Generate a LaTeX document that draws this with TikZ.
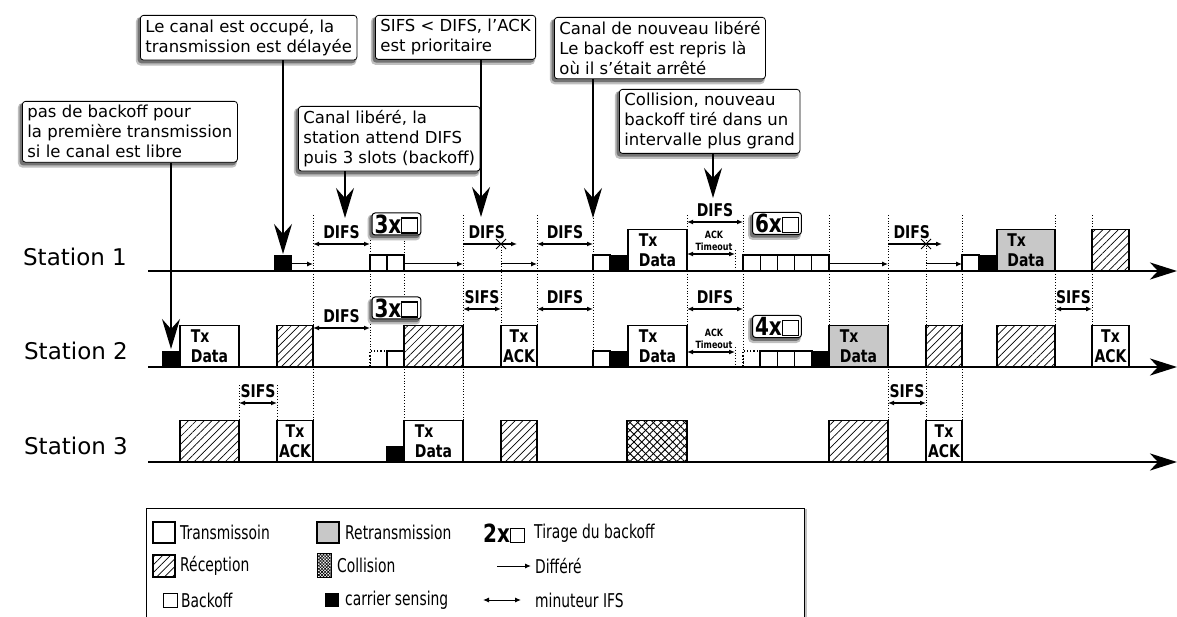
\documentclass[tikz,border=0pt]{standalone}
\usepackage{fontspec}
\setmainfont{DejaVu Sans}
\newfontfamily\condfont{DejaVu Sans}[FakeStretch=0.8]
\newfontfamily\legcondfont{DejaVu Sans}[FakeStretch=0.73]
\usetikzlibrary{arrows.meta,positioning,patterns.meta}
\definecolor{retxgray}{HTML}{C8C8C8}
\newcommand{\calloutfont}{\fontsize{16.5}{20}\selectfont}
\newcommand{\lblfont}{\condfont\bfseries\fontsize{17.5}{19.5}\selectfont}
\newcommand{\tinyfont}{\condfont\bfseries\fontsize{10}{12}\selectfont}
\newcommand{\cntfont}{\condfont\bfseries\fontsize{25}{25}\selectfont}
\newcommand{\legfont}{\legcondfont\fontsize{19}{20}\selectfont}
\newcommand{\sqbox}[3]{\tikz[baseline=0pt]\draw[line width=#3, sharp corners] (0pt,0pt) rectangle (#1,#2);}

\begin{document}
\begin{tikzpicture}[
  x=1pt, y=-1pt,
  blk/.style={anchor=south west, inner sep=0pt, outer sep=0pt, line width=1.2pt},
  tx/.style={blk, draw, fill=white, minimum height=41.5pt, font=\lblfont, align=left},
  ack/.style={tx, align=center},
  rtx/.style={tx, fill=retxgray},
  rx/.style={blk, draw, minimum height=41.5pt,
    pattern={Lines[angle=45, distance=5.5pt, line width=0.7pt]}},
  coll/.style={blk, draw, minimum height=41.5pt,
    preaction={pattern={Lines[angle=-45, distance=5.5pt, line width=0.9pt]}},
    pattern={Lines[angle=45, distance=5.5pt, line width=0.9pt]}},
  slot/.style={blk, draw, fill=white, minimum width=17pt, minimum height=16pt},
  dslot/.style={blk, draw, dotted, minimum width=17pt, minimum height=16pt},
  cs/.style={blk, fill=black, minimum width=18pt, minimum height=16pt},
  axis/.style={line width=2.8pt, -{Stealth[length=27pt, width=17pt, inset=8pt]}},
  grid/.style={dotted, line width=0.8pt},
  defer/.style={line width=1pt, -{Latex[length=6pt, width=5pt]}},
  ifs/.style={line width=1.2pt, {Latex[length=6pt, width=5pt]}-{Latex[length=6pt, width=5pt]}},
  ifsl/.style={line width=1.2pt, {Latex[length=6pt, width=5pt]}-},
  ifslab/.style={midway, yshift=12pt, inner sep=0pt, font=\lblfont},
  xmark/.style={line width=0.9pt},
  boxshadow/.style={preaction={draw=black!25, fill=black!25, line width=4pt,
      transform canvas={xshift=-2.5pt, yshift=-3.5pt}},
    preaction={draw=black!55, fill=black!55, line width=1.5pt,
      transform canvas={xshift=-2pt, yshift=-2.5pt}}},
  callout/.style={draw, fill=white, rounded corners=3pt, line width=0.8pt,
    align=left, font=\calloutfont, inner xsep=5pt, inner ysep=4pt, anchor=north west, boxshadow},
  callarrow/.style={line width=1.5pt, -{Stealth[length=30pt, width=18pt, inset=10pt]}},
  cnt/.style={draw, fill=white, rounded corners=3pt, line width=1pt, font=\cntfont,
    inner xsep=2.5pt, inner ysep=0pt, minimum height=22pt, boxshadow},
  station/.style={font=\fontsize{23}{23}\selectfont},
  legtext/.style={font=\legfont, inner sep=1pt, anchor=west}
]
  \useasboundingbox (0,0) rectangle (1177,617);

  % time grid
  \foreach \x/\ya/\yb in {239/385/421, 277/385/421, 313/215/421, 370/240/367,
      404/235/421, 463/215/421, 501/244/325, 537/215/325, 593/215/350,
      687/215/326, 743/215/367, 829/215/326, 888/215/421, 926/240/421,
      962/215/421, 1055/215/325, 1092/215/325, 735/250/271, 735/347/367}
    \draw[grid] (\x,\ya) -- (\x,\yb);

  % stations
  \node[station] (st1) at (75,257) {Station 1};
  \node[station] (st2) at (76,351) {Station 2};
  \node[station] (st3) at (76,446) {Station 3};
  \draw[axis] (148,271) -- (1177,271);
  \draw[axis] (148,367) -- (1177,367);
  \draw[axis] (148,462) -- (1177,462);

  % station 1
  \node[cs] (s1cs1) at (274,271) {};
  \draw[defer] (292,264) -- (313,264);
  \draw[ifs] (313,244) -- node[ifslab] {DIFS} (370,244);
  \node[cnt] (s1n3) at (396.5,224) {3x\sqbox{16pt}{15pt}{1.1pt}};
  \foreach \i in {0,1}
    \node[slot] at (370+17*\i,271) {};
  \draw[defer] (404,264) -- (463,264);
  \draw[ifsl] (517,244) -- node[ifslab, pos=0.56] {DIFS} (463,244);
  \draw[xmark] (501,244) +(-5,-5) -- +(5,5) +(-5,5) -- +(5,-5);
  \draw[defer] (501,264) -- (537,264);
  \draw[ifs] (537,244) -- node[ifslab] {DIFS} (593,244);
  \node[slot] (s1bo2) at (593,271) {};
  \node[cs] (s1cs2) at (610,271) {};
  \node[tx, minimum width=59pt] (s1data) at (628,271) {Tx\\Data};
  \draw[ifs] (687,222) -- node[ifslab] {DIFS} (743,222);
  \node[font=\tinyfont, align=center, inner sep=0pt] (s1to) at (714,241) {ACK\\Timeout};
  \draw[ifs] (687,254) -- (735,254);
  \node[cnt] (s1n6) at (777,223.5) {6x\sqbox{16pt}{15pt}{1.1pt}};
  \foreach \i in {0,...,4}
    \node[slot, minimum width=17.2pt] at (743+17.2*\i,271) {};
  \draw[defer] (829,264) -- (888,264);
  \draw[ifsl] (942,244) -- node[ifslab, pos=0.56] {DIFS} (888,244);
  \draw[xmark] (926,244) +(-5,-5) -- +(5,5) +(-5,5) -- +(5,-5);
  \draw[defer] (926,264) -- (962,264);
  \node[slot] (s1bo3) at (962,271) {};
  \node[cs] (s1cs3) at (979,271) {};
  \node[rtx, minimum width=58pt] (s1redata) at (997,271) {Tx\\Data};
  \node[rx, minimum width=37pt] (s1rx1) at (1092,271) {};

  % station 2
  \node[cs] (s2cs1) at (162,367) {};
  \node[tx, minimum width=59pt] (s2data1) at (180,367) {Tx\\Data};
  \node[rx, minimum width=36pt] (s2rx1) at (277,367) {};
  \draw[ifs] (313,328) -- node[ifslab] {DIFS} (370,328);
  \node[cnt] (s2n3) at (396.5,308) {3x\sqbox{16pt}{15pt}{1.1pt}};
  \node[dslot] (s2bo1) at (370,367) {};
  \node[slot] (s2bo2) at (387,367) {};
  \node[rx, minimum width=59pt] (s2rx2) at (404,367) {};
  \draw[ifs] (463,309) -- node[ifslab] {SIFS} (501,309);
  \node[ack, minimum width=36pt] (s2ack1) at (501,367) {Tx\\ACK};
  \draw[ifs] (537,309) -- node[ifslab] {DIFS} (593,309);
  \node[slot] (s2bo3) at (593,367) {};
  \node[cs] (s2cs2) at (610,367) {};
  \node[tx, minimum width=59pt] (s2data2) at (628,367) {Tx\\Data};
  \draw[ifs] (687,309) -- node[ifslab] {DIFS} (743,309);
  \node[font=\tinyfont, align=center, inner sep=0pt] (s2to) at (714,339) {ACK\\Timeout};
  \draw[ifs] (687,352) -- (735,352);
  \node[cnt] (s2n4) at (777,326.5) {4x\sqbox{16pt}{15pt}{1.1pt}};
  \node[dslot] (s2bo4) at (743,367) {};
  \foreach \i in {0,1,2}
    \node[slot, minimum width=17.3pt] at (760+17.3*\i,367) {};
  \node[cs, minimum width=17pt] (s2cs3) at (812,367) {};
  \node[rtx, minimum width=59pt] (s2redata) at (829,367) {Tx\\Data};
  \node[rx, minimum width=36pt] (s2rx3) at (926,367) {};
  \node[rx, minimum width=58pt] (s2rx4) at (997,367) {};
  \draw[ifs] (1055,309) -- node[ifslab] {SIFS} (1092,309);
  \node[ack, minimum width=37pt] (s2ack2) at (1092,367) {Tx\\ACK};

  % station 3
  \node[rx, minimum width=59pt] (s3rx1) at (180,462) {};
  \draw[ifs] (239,403) -- node[ifslab] {SIFS} (277,403);
  \node[ack, minimum width=36pt] (s3ack1) at (277,462) {Tx\\ACK};
  \node[cs] (s3cs1) at (386,462) {};
  \node[tx, minimum width=59pt] (s3data1) at (404,462) {Tx\\Data};
  \node[rx, minimum width=36pt] (s3rx2) at (501,462) {};
  \node[coll, minimum width=60pt] (s3coll) at (627,462) {};
  \node[rx, minimum width=59pt] (s3rx3) at (829,462) {};
  \draw[ifs] (888,403) -- node[ifslab] {SIFS} (926,403);
  \node[ack, minimum width=36pt] (s3ack2) at (926,462) {Tx\\ACK};

  % callouts
  \node[callout] (nobo) at (22,101) {pas de backoff pour\\la première transmission\\si le canal est libre};
  \node[callout] (busy) at (140,15) {Le canal est occupé, la\\transmission est délayée};
  \node[callout] (free) at (298,106) {Canal libéré, la\\station attend DIFS\\puis 3 slots (backoff)};
  \node[callout] (prio) at (375,15) {SIFS < DIFS, l'ACK\\est prioritaire};
  \node[callout] (again) at (554,17) {Canal de nouveau libéré\\Le backoff est repris là\\où il s'était arrêté};
  \node[callout] (collid) at (619,89) {Collision, nouveau\\backoff tiré dans un\\intervalle plus grand};
  \coordinate (tnobo) at (171,349);
  \coordinate (tbusy) at (283,254);
  \coordinate (tfree) at (345,218);
  \coordinate (tprio) at (481,217);
  \coordinate (tagain) at (593,218);
  \coordinate (tcollid) at (713,198);
  \draw[callarrow] (nobo.south -| tnobo) -- (tnobo);
  \draw[callarrow] (busy.south -| tbusy) -- (tbusy);
  \draw[callarrow] (free.south -| tfree) -- (tfree);
  \draw[callarrow] (prio.south -| tprio) -- (tprio);
  \draw[callarrow] (again.south -| tagain) -- (tagain);
  \draw[callarrow] (collid.south -| tcollid) -- (tcollid);

  % legend
  \node[draw, fill=white, line width=1pt, minimum width=658pt, minimum height=109pt,
    anchor=north west, inner sep=0pt,
    preaction={draw=black!25, line width=2pt, transform canvas={xshift=1.5pt, yshift=-1pt}}] (legend) at (146,508) {};
  \node[tx, minimum width=22pt, minimum height=21pt] (lgtx) at (153,543) {};
  \node[legtext, right=4pt of lgtx] {Transmissoin};
  \node[rx, minimum width=22pt, minimum height=22pt] (lgrx) at (153,577) {};
  \node[legtext, right=4pt of lgrx] {Réception};
  \node[slot, minimum width=14pt, minimum height=14pt, line width=1pt] (lgbo) at (163,607) {};
  \node[legtext, right=3pt of lgbo] {Backoff};
  \node[rtx, minimum width=22pt, minimum height=21pt] (lgrtx) at (317,543) {};
  \node[legtext, right=5pt of lgrtx] {Retransmission};
  \node[blk, draw, line width=0.8pt, minimum width=14pt, minimum height=24pt,
    preaction={pattern={Lines[angle=-45, distance=2.2pt, line width=0.6pt]}},
    pattern={Lines[angle=45, distance=2.2pt, line width=0.6pt]}] (lgcoll) at (317,577) {};
  \node[legtext, right=5pt of lgcoll] {Collision};
  \node[cs, minimum width=14pt, minimum height=14pt] (lgcs) at (325,607) {};
  \node[legtext, right=5pt of lgcs] {carrier sensing};
  \node[font=\cntfont, inner sep=0pt, anchor=west] (lgcnt) at (483,533) {2x\sqbox{14pt}{14pt}{0.8pt}};
  \node[legtext, right=8pt of lgcnt] {Tirage du backoff};
  \coordinate (lgdf) at (497,566);
  \node[legtext] (lgdftext) at (534,566) {Différé};
  \draw[defer] (lgdf) -- ([xshift=-3pt]lgdftext.west);
  \coordinate (lgifs) at (483,600);
  \node[legtext] (lgifstext) at (534,600) {minuteur IFS};
  \draw[ifs, line width=1pt] (lgifs) -- ([xshift=-13pt]lgifstext.west);
\end{tikzpicture}
\end{document}
